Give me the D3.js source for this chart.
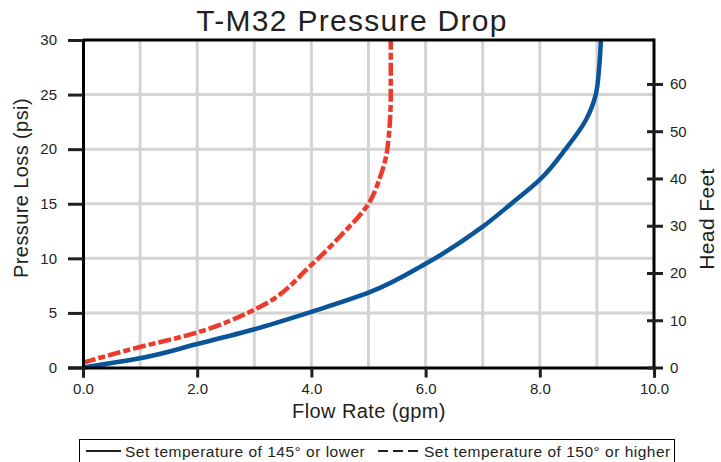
<!DOCTYPE html>
<html><head><meta charset="utf-8">
<script src="https://cdn.jsdelivr.net/npm/d3@7/dist/d3.min.js"></script>
<style>body{margin:0;background:#fff}svg{display:block;font-family:"Liberation Sans",Arial,sans-serif}</style>
</head><body><svg id="c" width="721" height="462"></svg>
<script>
const title = "T-M32 Pressure Drop";
const xLabel = "Flow Rate (gpm)";
const yLabel = "Pressure Loss (psi)";
const y2Label = "Head Feet";
const xTicks = [0, 2, 4, 6, 8, 10];
const yTicks = [0, 5, 10, 15, 20, 25, 30];
const y2Ticks = [0, 10, 20, 30, 40, 50, 60];
const legendLabels = ["Set temperature of 145° or lower", "Set temperature of 150° or higher"];
// series: [flow gpm, pressure psi]
const lowTemp = [[0,0],[1,0.85],[2,2.15],[3,3.5],[4,5.1],[5,6.85],[6,9.5],[7,12.9],[7.5,15],[8,17.2],[8.45,20],[8.8,22.6],[8.98,25],[9.04,27.5],[9.07,30]];
const highTemp = [[0,0.45],[0.9,1.75],[1.93,3.1],[3.04,5.4],[4.0,9.4],[4.5,12.0],[5.0,15.0],[5.2,17.4],[5.33,20],[5.39,25],[5.39,30]];
const psiToFeet = 2.31;

const svg = d3.select("#c");
const L = 83, R = 654, T = 40, B = 367.5;
const x = d3.scaleLinear().domain([0,10]).range([L,R]);
const y = d3.scaleLinear().domain([0,30]).range([B,T]);
const y2 = d3.scaleLinear().domain([0,30*psiToFeet]).range([B,T]);
const grid = "#d4d4d4", ink = "#231f20";

// grid
const g = svg.append("g");
g.selectAll(".vg").data(d3.range(1,10)).join("line")
  .attr("x1",d=>x(d)).attr("x2",d=>x(d)).attr("y1",T).attr("y2",B)
  .attr("stroke",grid).attr("stroke-width",3);
g.selectAll(".hg").data([5,10,15,20,25]).join("line")
  .attr("x1",L).attr("x2",R).attr("y1",d=>y(d)).attr("y2",d=>y(d))
  .attr("stroke",grid).attr("stroke-width",3);

// curves
const line = d3.line().x(d=>x(d[0])).y(d=>y(d[1])).curve(d3.curveMonotoneY);
svg.append("path").datum(lowTemp).attr("d",line).attr("fill","none")
  .attr("stroke","#0a5597").attr("stroke-width",4.5);
svg.append("path").datum(highTemp).attr("d",line).attr("fill","none")
  .attr("stroke","#ee3a2a").attr("stroke-width",4.5).attr("stroke-dasharray","13,3,7,3");

// frame
svg.append("line").attr("x1",L).attr("x2",R).attr("y1",T).attr("y2",T).attr("stroke","#000").attr("stroke-width",3);
svg.append("line").attr("x1",R).attr("x2",R).attr("y1",T-1.5).attr("y2",B+1.5).attr("stroke","#000").attr("stroke-width",3);

// left axis
const ya = svg.append("g").attr("transform",`translate(${L},0)`)
  .call(d3.axisLeft(y).tickValues(yTicks).tickFormat(d3.format("d")).tickSize(15).tickPadding(11));
ya.select(".domain").attr("stroke","#000").attr("stroke-width",3);
ya.selectAll(".tick line").attr("stroke",ink).attr("stroke-width",3);
ya.selectAll(".tick text").attr("font-size",15).attr("fill",ink).attr("font-family","Liberation Sans, Arial, sans-serif");

// bottom axis
const xa = svg.append("g").attr("transform",`translate(0,${B})`)
  .call(d3.axisBottom(x).tickValues(xTicks).tickFormat(d3.format(".1f")).tickSize(10).tickPadding(6));
xa.select(".domain").attr("stroke","#000").attr("stroke-width",3);
xa.selectAll(".tick line").attr("stroke",ink).attr("stroke-width",3);
xa.selectAll(".tick text").attr("font-size",15).attr("fill",ink).attr("font-family","Liberation Sans, Arial, sans-serif");

// right axis
const ra = svg.append("g").attr("transform",`translate(${R},0)`)
  .call(d3.axisRight(y2).tickValues(y2Ticks).tickSize(9).tickPadding(7));
ra.select(".domain").remove();
ra.selectAll(".tick line").attr("x1",-7).attr("stroke",ink).attr("stroke-width",3);
ra.selectAll(".tick text").attr("font-size",15).attr("fill",ink).attr("font-family","Liberation Sans, Arial, sans-serif");

// labels
svg.append("text").attr("x",352).attr("y",31).attr("text-anchor","middle")
  .attr("font-size",30).attr("letter-spacing",1.3).attr("fill",ink).text(title);
svg.append("text").attr("x",369).attr("y",418).attr("text-anchor","middle")
  .attr("font-size",20).attr("letter-spacing",0.4).attr("fill",ink).text(xLabel);
svg.append("text").attr("transform","translate(28,188) rotate(-90)").attr("text-anchor","middle")
  .attr("font-size",20).attr("letter-spacing",0.4).attr("fill",ink).text(yLabel);
svg.append("text").attr("transform","translate(714,219) rotate(-90)").attr("text-anchor","middle")
  .attr("font-size",21).attr("letter-spacing",0.4).attr("fill",ink).text(y2Label);

// legend
svg.append("rect").attr("x",79.5).attr("y",439.5).attr("width",595).attr("height",30)
  .attr("fill","none").attr("stroke","#000").attr("stroke-width",1);
svg.append("line").attr("x1",86).attr("x2",121).attr("y1",451).attr("y2",451).attr("stroke",ink).attr("stroke-width",2.2);
svg.append("text").attr("x",125).attr("y",457).attr("font-size",15.5).attr("letter-spacing",0.5).attr("fill",ink).text(legendLabels[0]);
svg.append("line").attr("x1",378).attr("x2",421).attr("y1",451).attr("y2",451).attr("stroke",ink).attr("stroke-width",2.2).attr("stroke-dasharray","10,5");
svg.append("text").attr("x",424).attr("y",457).attr("font-size",15.5).attr("letter-spacing",0.5).attr("fill",ink).text(legendLabels[1]);
</script></body></html>
